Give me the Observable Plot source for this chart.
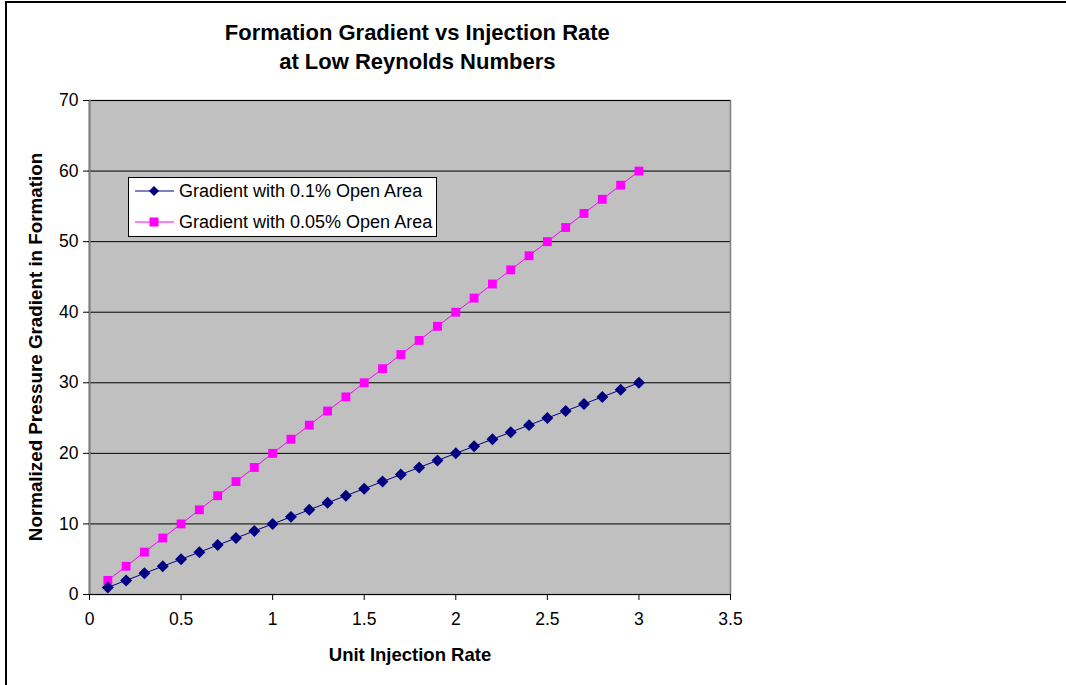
<!DOCTYPE html>
<html>
<head>
<meta charset="utf-8">
<script src="https://cdn.jsdelivr.net/npm/d3@7"></script>
<script src="https://cdn.jsdelivr.net/npm/@observablehq/plot@0.6"></script>
<style>
  html, body { margin: 0; padding: 0; background: #fff; }
  #wrap { position: relative; width: 1066px; height: 685px; overflow: hidden; font-family: "Liberation Sans", Arial, sans-serif; }
  #wrap svg { position: absolute; left: 0; top: 0; }
  .bl { position: absolute; left: 5px; top: 1px; width: 2px; height: 690px; background: #000; }
  .bt { position: absolute; left: 5px; top: 1px; width: 1070px; height: 2px; background: #000; }
  #legend { position: absolute; left: 128px; top: 177px; width: 309px; height: 60px; background: #fff; border: 1px solid #000; box-sizing: border-box; font-size: 18px; color: #000; }
  .lrow { position: absolute; left: 0; height: 24px; display: flex; align-items: center; }
  .lrow span { margin-left: 4px; white-space: nowrap; }
</style>
</head>
<body>
<div id="wrap">
  <div class="bl"></div>
  <div class="bt"></div>
  <div id="chart"></div>
  <div id="legend"></div>
</div>
<script>
const titleLines = ["Formation Gradient vs Injection Rate", "at Low Reynolds Numbers"];
const xLabel = "Unit Injection Rate";
const yLabel = "Normalized Pressure Gradient in Formation";
const seriesNames = ["Gradient with 0.1% Open Area", "Gradient with 0.05% Open Area"];
const seriesColors = ["#000080", "#FF00FF"];
const injectionRate = [0.1,0.2,0.3,0.4,0.5,0.6,0.7,0.8,0.9,1.0,1.1,1.2,1.3,1.4,1.5,1.6,1.7,1.8,1.9,2.0,2.1,2.2,2.3,2.4,2.5,2.6,2.7,2.8,2.9,3.0];
const gradient01 = [1,2,3,4,5,6,7,8,9,10,11,12,13,14,15,16,17,18,19,20,21,22,23,24,25,26,27,28,29,30];
const gradient005 = [2,4,6,8,10,12,14,16,18,20,22,24,26,28,30,32,34,36,38,40,42,44,46,48,50,52,54,56,58,60];
const xTicks = [0,0.5,1,1.5,2,2.5,3,3.5];
const yTicks = [0,10,20,30,40,50,60,70];

const s1 = injectionRate.map((x,i)=>({x, y: gradient01[i]}));
const s2 = injectionRate.map((x,i)=>({x, y: gradient005[i]}));

const W = 1066, H = 685;
const ml = 89, mr = W - 730, mt = 100, mb = H - 594;
const fmt = d => String(d);

const chart = Plot.plot({
  width: W, height: H,
  marginLeft: ml, marginRight: mr, marginTop: mt, marginBottom: mb,
  style: { fontFamily: "'Liberation Sans', Arial, sans-serif", fontSize: "17.5px", color: "#000", background: "transparent", overflow: "visible" },
  x: { domain: [0, 3.5], label: null },
  y: { domain: [0, 70], label: null },
  marks: [
    Plot.frame({ fill: "#C0C0C0", stroke: "#808080", strokeWidth: 1.5 }),
    Plot.gridY(yTicks.filter(d => d > 0), { stroke: "#000", strokeOpacity: 1, strokeWidth: 1 }),
    Plot.ruleY([0], { stroke: "#000", strokeWidth: 1.2 }),
    Plot.ruleX([0], { stroke: "#808080", strokeWidth: 2 }),
    Plot.axisX(xTicks, { tickSize: 6, tickPadding: 12, fontSize: 17.5, stroke: "#000", tickFormat: fmt }),
    Plot.axisY(yTicks, { tickSize: 6, tickPadding: 5, fontSize: 17.5, stroke: "#000", tickFormat: fmt }),
    Plot.line(s2, { x: "x", y: "y", stroke: seriesColors[1], strokeWidth: 1 }),
    Plot.line(s1, { x: "x", y: "y", stroke: seriesColors[0], strokeWidth: 1 }),
    Plot.dot(s2, { x: "x", y: "y", symbol: "square", r: 5, fill: seriesColors[1], stroke: null }),
    Plot.dot(s1, { x: "x", y: "y", symbol: "diamond2", r: 5.4, fill: seriesColors[0], stroke: null }),
    Plot.text([titleLines[0]], { frameAnchor: "top", dy: -68, fontSize: 22, fontWeight: "bold", x: () => 1.79, textAnchor: "middle", lineAnchor: "middle" }),
    Plot.text([titleLines[1]], { frameAnchor: "top", dy: -39, fontSize: 22, fontWeight: "bold", x: () => 1.79, textAnchor: "middle", lineAnchor: "middle" }),
    Plot.text([xLabel], { frameAnchor: "bottom", dy: 61, fontSize: 18.5, fontWeight: "bold", x: () => 1.75, textAnchor: "middle", lineAnchor: "middle" })
  ]
});
document.getElementById("chart").appendChild(chart);

// y-axis label (rotated)
const svg = d3.select(chart);
svg.append("text")
  .attr("transform", `translate(35, ${(mt + (H - mb)) / 2}) rotate(-90)`)
  .attr("text-anchor", "middle")
  .attr("dominant-baseline", "central")
  .attr("font-weight", "bold")
  .attr("font-size", 18.8)
  .attr("fill", "#000")
  .text(yLabel);

// legend
const legend = document.getElementById("legend");
seriesNames.forEach((name, i) => {
  const row = document.createElement("div");
  row.className = "lrow";
  row.style.top = (i === 0 ? 1 : 32) + "px";
  row.style.left = "6px";
  const lsvg = d3.create("svg").attr("width", 40).attr("height", 24).style("position", "static");
  lsvg.append("line").attr("x1", 0).attr("x2", 39).attr("y1", 12).attr("y2", 12).attr("stroke", seriesColors[i]).attr("stroke-width", 1);
  if (i === 0) {
    lsvg.append("path").attr("d", "M19,7 L24,12 L19,17 L14,12 Z").attr("fill", seriesColors[i]);
  } else {
    lsvg.append("rect").attr("x", 14.5).attr("y", 7.5).attr("width", 9).attr("height", 9).attr("fill", seriesColors[i]);
  }
  row.appendChild(lsvg.node());
  const sp = document.createElement("span");
  sp.textContent = name;
  row.appendChild(sp);
  legend.appendChild(row);
});
</script>
</body>
</html>
